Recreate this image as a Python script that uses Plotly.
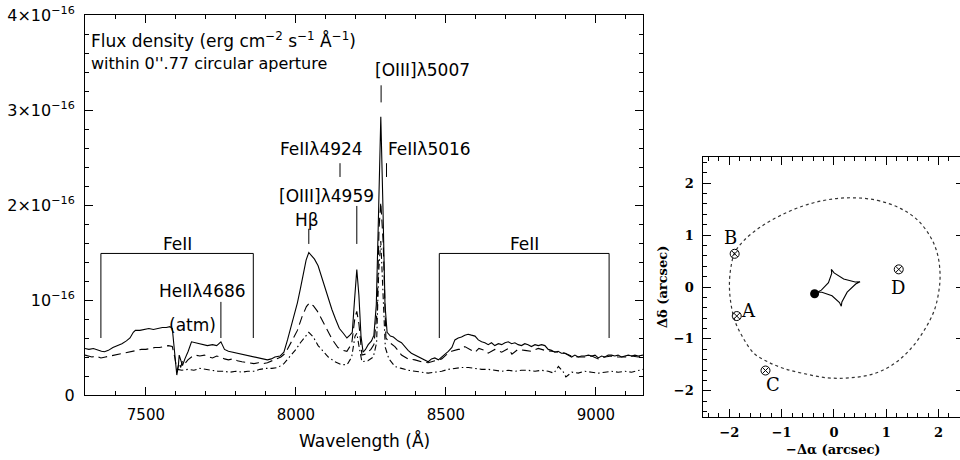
import plotly.graph_objects as go

# ---------------- Spectrum data (flux in units of 1e-16 erg/cm2/s/A) ----------------
wl_solid = [7297, 7310, 7325, 7340, 7352, 7362, 7375, 7390, 7405, 7420, 7435, 7447, 7458, 7465,
            7480, 7495, 7510, 7525, 7540, 7555, 7568, 7580, 7588, 7595, 7603, 7608, 7611, 7617,
            7622, 7630, 7641, 7652, 7665, 7675, 7690, 7705, 7722, 7736, 7750, 7762, 7775, 7790,
            7805, 7820, 7835, 7848, 7860, 7875, 7890, 7905, 7918, 7930, 7947, 7960, 7972, 7991,
            8005, 8015, 8025, 8034, 8043, 8052, 8062, 8074, 8085, 8095, 8108, 8120, 8132, 8145,
            8158, 8170, 8180, 8188, 8195, 8203, 8210, 8217, 8224, 8232, 8241, 8252, 8260, 8268,
            8275, 8283, 8290, 8297, 8304, 8315, 8325, 8340, 8352, 8365, 8374, 8385, 8397, 8408,
            8419, 8430, 8441, 8452, 8463, 8475, 8486, 8497, 8508, 8520, 8530, 8541, 8552, 8563,
            8574, 8585, 8597, 8608, 8619, 8630, 8641, 8652, 8663, 8675, 8686, 8697, 8708, 8719,
            8730, 8741, 8752, 8763, 8774, 8785, 8797, 8808, 8819, 8830, 8841, 8852, 8863, 8874,
            8885, 8897, 8908, 8919, 8930, 8941, 8952, 8963, 8975, 8986, 8997, 9008, 9019, 9030,
            9041, 9052, 9063, 9074, 9085, 9097, 9108, 9119, 9130, 9141, 9157]
flux_solid = [0.49, 0.48, 0.49, 0.47, 0.46, 0.455, 0.47, 0.50, 0.52, 0.54, 0.57, 0.60, 0.66, 0.68,
              0.68, 0.69, 0.70, 0.69, 0.70, 0.71, 0.71, 0.72, 0.70, 0.45, 0.21, 0.30, 0.42, 0.36,
              0.31, 0.38, 0.46, 0.56, 0.55, 0.54, 0.53, 0.52, 0.53, 0.52, 0.56, 0.48, 0.46, 0.45,
              0.44, 0.43, 0.42, 0.41, 0.40, 0.39, 0.38, 0.37, 0.38, 0.40, 0.41, 0.45, 0.58, 0.80,
              0.97, 1.12, 1.30, 1.42, 1.50, 1.47, 1.43, 1.36, 1.25, 1.15, 1.00, 0.90, 0.80, 0.70,
              0.65, 0.60, 0.63, 0.66, 0.98, 1.32, 1.05, 0.62, 0.45, 0.48, 0.53, 0.57, 0.63, 0.95,
              1.85, 2.93, 2.00, 0.95, 0.66, 0.62, 0.61, 0.57, 0.55, 0.50, 0.47, 0.44, 0.42, 0.40,
              0.39, 0.37, 0.35, 0.38, 0.39, 0.37, 0.40, 0.42, 0.46, 0.50, 0.58, 0.60, 0.61, 0.63,
              0.64, 0.63, 0.62, 0.58, 0.56, 0.55, 0.53, 0.55, 0.52, 0.54, 0.53, 0.55, 0.56, 0.54,
              0.55, 0.53, 0.52, 0.54, 0.53, 0.51, 0.53, 0.52, 0.53, 0.52, 0.48, 0.47, 0.45, 0.46,
              0.44, 0.44, 0.42, 0.40, 0.42, 0.40, 0.41, 0.41, 0.42, 0.41, 0.42, 0.39, 0.41, 0.40,
              0.42, 0.42, 0.41, 0.42, 0.40, 0.41, 0.42, 0.41, 0.42, 0.41, 0.42]

wl_dash = [7297, 7310, 7320, 7335, 7350, 7365, 7380, 7395, 7410, 7425, 7440, 7455, 7470, 7485,
           7500, 7515, 7530, 7545, 7560, 7575, 7588, 7596, 7604, 7610, 7616, 7622, 7630, 7640,
           7652, 7665, 7680, 7695, 7710, 7722, 7736, 7750, 7762, 7775, 7790, 7805, 7820, 7835,
           7848, 7860, 7875, 7890, 7905, 7920, 7935, 7950, 7965, 7980, 7991, 8005, 8020, 8035,
           8045, 8058, 8072, 8080, 8100, 8122, 8140, 8158, 8170, 8186, 8197, 8203, 8210, 8220,
           8232, 8250, 8260, 8271, 8277, 8283, 8291, 8300, 8313, 8330, 8352, 8374, 8397, 8419,
           8441, 8463, 8486, 8500, 8519, 8541, 8552, 8563, 8585, 8597, 8610, 8630, 8641, 8663,
           8686, 8708, 8720, 8740, 8763, 8785, 8808, 8830, 8852, 8874, 8897, 8919, 8941, 8963,
           8986, 9008, 9030, 9052, 9074, 9097, 9119, 9141, 9157]
flux_dash = [0.42, 0.41, 0.40, 0.41, 0.39, 0.40, 0.41, 0.42, 0.43, 0.44, 0.45, 0.46, 0.47, 0.48,
             0.48, 0.49, 0.50, 0.50, 0.51, 0.52, 0.51, 0.40, 0.25, 0.34, 0.29, 0.36, 0.33, 0.37,
             0.40, 0.42, 0.41, 0.42, 0.40, 0.39, 0.41, 0.40, 0.38, 0.37, 0.38, 0.36, 0.35, 0.34,
             0.33, 0.33, 0.34, 0.33, 0.34, 0.36, 0.38, 0.40, 0.44, 0.53, 0.58, 0.68, 0.82, 0.93,
             0.97, 0.94, 0.88, 0.83, 0.70, 0.58, 0.50, 0.47, 0.46, 0.54, 0.82, 0.88, 0.75, 0.42,
             0.43, 0.48, 0.53, 0.89, 1.75, 2.03, 1.60, 0.60, 0.55, 0.51, 0.42, 0.38, 0.37, 0.35,
             0.34, 0.36, 0.38, 0.42, 0.46, 0.48, 0.48, 0.51, 0.47, 0.45, 0.49, 0.47, 0.44, 0.48,
             0.45, 0.49, 0.43, 0.48, 0.47, 0.46, 0.49, 0.47, 0.46, 0.45, 0.44, 0.41, 0.40, 0.40,
             0.41, 0.38, 0.40, 0.41, 0.40, 0.40, 0.41, 0.40, 0.41]

wl_dashdot = [7605, 7620, 7640, 7660, 7680, 7700, 7720, 7740, 7760, 7780, 7800, 7820, 7840, 7860,
              7880, 7900, 7920, 7940, 7960, 7980, 8000, 8015, 8030, 8043, 8058, 8074, 8091, 8108,
              8130, 8152, 8171, 8186, 8197, 8203, 8210, 8220, 8240, 8258, 8269, 8276, 8283, 8291,
              8298, 8310, 8330, 8352, 8374, 8397, 8419, 8441, 8463, 8486, 8508, 8530, 8552, 8575,
              8597, 8619, 8641, 8663, 8686, 8708, 8730, 8752, 8774, 8797, 8819, 8841, 8860, 8875,
              8890, 8900, 8920, 8941, 8963, 8986, 9008, 9030, 9052, 9074, 9097, 9119, 9141, 9157]
flux_dashdot = [0.27, 0.26, 0.27, 0.26, 0.28, 0.27, 0.26, 0.25, 0.25, 0.24, 0.25, 0.24, 0.25, 0.25,
                0.27, 0.28, 0.28, 0.29, 0.33, 0.40, 0.48, 0.55, 0.61, 0.66, 0.61, 0.52, 0.46, 0.40,
                0.35, 0.32, 0.32, 0.40, 0.62, 0.65, 0.52, 0.35, 0.36, 0.40, 0.55, 1.30, 1.62, 1.10,
                0.50, 0.38, 0.30, 0.28, 0.26, 0.25, 0.24, 0.23, 0.24, 0.25, 0.27, 0.28, 0.29, 0.29,
                0.28, 0.27, 0.27, 0.26, 0.25, 0.26, 0.25, 0.26, 0.26, 0.25, 0.26, 0.25, 0.23, 0.30,
                0.25, 0.19, 0.24, 0.23, 0.25, 0.24, 0.23, 0.24, 0.25, 0.24, 0.25, 0.24, 0.26, 0.27]

# axis ticks / labels
spec_xticks = [7500, 8000, 8500, 9000]
spec_yticks = [0, 1, 2, 3, 4]
spec_yticktext = ["0", "10<sup>−16</sup>", "2×10<sup>−16</sup>", "3×10<sup>−16</sup>", "4×10<sup>−16</sup>"]

# line identifications: label, label x, label y, tick x, tick y0, tick y1, anchor
line_labels = ["[OIII]λ5007", "FeIIλ4924", "FeIIλ5016", "[OIII]λ4959", "Hβ", "HeIIλ4686"]
line_label_x = [8257, 8085, 8300, 8103, 8036, 7687]
line_label_y = [3.42, 2.59, 2.59, 2.09, 1.84, 1.10]
line_label_anchor = ["left", "center", "left", "center", "center", "center"]
line_tick_x = [8284, 8147, 8302, 8203, 8043, 7750]
line_tick_y0 = [3.08, 2.295, 2.295, 1.59, 1.59, 0.60]
line_tick_y1 = [3.26, 2.44, 2.44, 1.99, 1.75, 0.98]

# FeII blend brackets
feii_x0 = [7350, 8478]
feii_x1 = [7858, 9044]
feii_top = 1.49
feii_bottom = 0.60

# ---------------- Lens model panel ----------------
crit_x = [0.32, 0.83, 1.28, 1.60, 1.85, 1.98, 2.03, 2.01, 1.92, 1.73, 1.47, 1.15, 0.77, 0.32,
          -0.13, -0.57, -0.96, -1.27, -1.53, -1.75, -1.90, -1.98, -2.00, -1.97, -1.90, -1.72,
          -1.40, -1.02, -0.57, -0.13, 0.32]
crit_y = [1.72, 1.67, 1.51, 1.29, 0.96, 0.64, 0.26, -0.06, -0.45, -0.83, -1.19, -1.48, -1.67, -1.75,
          -1.75, -1.67, -1.57, -1.44, -1.28, -0.96, -0.64, -0.26, 0.07, 0.39, 0.66, 0.90,
          1.16, 1.38, 1.57, 1.68, 1.72]

caus_x = [0.50, 0.416, 0.253, 0.152, 0.14, 0.106, -0.037, -0.230, -0.32, -0.241, -0.105, -0.043,
          -0.05, 0.003, 0.186, 0.406, 0.50]
caus_y = [0.10, 0.057, -0.099, -0.288, -0.37, -0.299, -0.169, -0.101, -0.10, -0.061, 0.082, 0.261,
          0.34, 0.272, 0.153, 0.096, 0.10]

img_names = ["A", "B", "C", "D"]
img_x = [-1.86, -1.90, -1.31, 1.24]
img_y = [-0.56, 0.64, -1.61, 0.34]
img_label_x = [-1.63, -1.98, -1.16, 1.22]
img_label_y = [-0.45, 0.96, -1.88, 0.00]

galaxy_x = [-0.37]
galaxy_y = [-0.13]

lens_ticks = [-2, -1, 0, 1, 2]

# ---------------- Figure ----------------
W, H = 960, 460
fig = go.Figure()

fig.add_trace(go.Scatter(x=wl_solid, y=flux_solid, mode="lines",
                         line=dict(color="black", width=1.1), xaxis="x", yaxis="y"))
fig.add_trace(go.Scatter(x=wl_dash, y=flux_dash, mode="lines",
                         line=dict(color="black", width=1.1, dash="9px,5px"), xaxis="x", yaxis="y"))
fig.add_trace(go.Scatter(x=wl_dashdot, y=flux_dashdot, mode="lines",
                         line=dict(color="black", width=1.1, dash="6px,3px,1.5px,3px"), xaxis="x", yaxis="y"))

fig.add_trace(go.Scatter(x=crit_x, y=crit_y, mode="lines", line_shape="spline",
                         line=dict(color="#333", width=1.2, dash="dot"), xaxis="x2", yaxis="y2"))
fig.add_trace(go.Scatter(x=caus_x, y=caus_y, mode="lines",
                         line=dict(color="black", width=1.1), xaxis="x2", yaxis="y2"))
fig.add_trace(go.Scatter(x=img_x, y=img_y, mode="markers",
                         marker=dict(symbol="circle-x-open", size=9, color="black",
                                     line=dict(width=1, color="black")),
                         xaxis="x2", yaxis="y2"))
fig.add_trace(go.Scatter(x=galaxy_x, y=galaxy_y, mode="markers",
                         marker=dict(symbol="circle", size=9, color="black"),
                         xaxis="x2", yaxis="y2"))
fig.add_trace(go.Scatter(x=[], y=[], xaxis="x2", yaxis="y3", showlegend=False))

sans = "DejaVu Sans"
serif = "DejaVu Serif"

common = dict(showgrid=False, zeroline=False, showline=True, linecolor="black", linewidth=1,
              ticks="inside", ticklen=8, tickwidth=1, tickcolor="black", automargin=False)

fig.update_layout(
    width=W, height=H, margin=dict(l=0, r=0, t=0, b=0, autoexpand=False),
    paper_bgcolor="white", plot_bgcolor="white", showlegend=False,
    xaxis=dict(domain=[85 / W, 643 / W], range=[7297, 9157], anchor="y",
               tickvals=spec_xticks, mirror="ticks",
               minor=dict(dtick=100, ticklen=4, ticks="inside", tickcolor="black"),
               tickfont=dict(family=sans, size=15, color="black"), ticklabelstandoff=6, **common),
    yaxis=dict(domain=[65 / H, 445 / H], range=[0, 4], anchor="x",
               tickvals=spec_yticks, ticktext=spec_yticktext, mirror="ticks",
               minor=dict(dtick=0.2, ticklen=4, ticks="inside", tickcolor="black"),
               tickfont=dict(family=sans, size=16, color="black"), ticklabelstandoff=6, **common),
    xaxis2=dict(domain=[703.3 / W, 1.0], range=[-2.5, 2.412], anchor="y2",
                tickvals=lens_ticks, mirror="ticks",
                minor=dict(dtick=0.2, ticklen=4, ticks="inside", tickcolor="black"),
                tickfont=dict(family=serif, size=13, color="black", weight="bold"),
                ticklabelstandoff=4, **common),
    yaxis2=dict(domain=[43.3 / H, 302.7 / H], range=[-2.5, 2.5], anchor="x2",
                tickvals=lens_ticks, mirror=False,
                minor=dict(dtick=0.2, ticklen=4, ticks="inside", tickcolor="black"),
                tickfont=dict(family=serif, size=13, color="black", weight="bold"),
                ticklabelstandoff=6, **common),
    yaxis3=dict(overlaying="y2", side="right", anchor="x2", range=[-2.5, 2.5],
                tickvals=lens_ticks, showticklabels=False, showline=False, showgrid=False,
                zeroline=False, ticks="inside", ticklen=4, tickcolor="black", automargin=False),
)

ann = []
font_l = dict(family=sans, size=17, color="black")
for t, x, y, a in zip(line_labels, line_label_x, line_label_y, line_label_anchor):
    ann.append(dict(x=x, y=y, xref="x", yref="y", text=t, showarrow=False,
                    xanchor=a, yanchor="middle", font=font_l))
ann.append(dict(x=7655, y=0.74, xref="x", yref="y", text="(atm)", showarrow=False,
                xanchor="center", yanchor="middle", font=font_l))
for x0, x1 in zip(feii_x0, feii_x1):
    ann.append(dict(x=(x0 + x1) / 2, y=1.59, xref="x", yref="y", text="FeII", showarrow=False,
                    xanchor="center", yanchor="middle", font=font_l))
ann.append(dict(x=89 / W, y=1 - 40 / H, xref="paper", yref="paper",
                text="Flux density (erg cm<sup>−2</sup> s<sup>−1</sup> Å<sup>−1</sup>)",
                showarrow=False, xanchor="left", yanchor="middle",
                font=dict(family=sans, size=17, color="black")))
ann.append(dict(x=89 / W, y=1 - 64 / H, xref="paper", yref="paper",
                text="within 0''.77 circular aperture",
                showarrow=False, xanchor="left", yanchor="middle",
                font=dict(family=sans, size=16, color="black")))
ann.append(dict(x=364 / W, y=1 - 440 / H, xref="paper", yref="paper",
                text="Wavelength (Å)", showarrow=False, xanchor="center", yanchor="middle",
                font=dict(family=sans, size=17, color="black")))
# lens panel labels
for n, x, y in zip(img_names, img_label_x, img_label_y):
    ann.append(dict(x=x, y=y, xref="x2", yref="y2", text=n, showarrow=False,
                    xanchor="center", yanchor="middle",
                    font=dict(family=serif, size=18, color="black")))
ann.append(dict(x=833 / W, y=1 - 449 / H, xref="paper", yref="paper",
                text="−Δα (arcsec)", showarrow=False, xanchor="center", yanchor="middle",
                font=dict(family=serif, size=13, color="black", weight="bold")))
ann.append(dict(x=662 / W, y=1 - 287 / H, xref="paper", yref="paper",
                text="Δδ (arcsec)", showarrow=False, xanchor="center", yanchor="middle",
                textangle=-90, font=dict(family=serif, size=13, color="black", weight="bold")))
fig.update_layout(annotations=ann)

shapes = []
for x, y0, y1 in zip(line_tick_x, line_tick_y0, line_tick_y1):
    shapes.append(dict(type="line", xref="x", yref="y", x0=x, x1=x, y0=y0, y1=y1,
                       line=dict(color="black", width=1)))
for x0, x1 in zip(feii_x0, feii_x1):
    shapes.append(dict(type="line", xref="x", yref="y", x0=x0, x1=x1, y0=feii_top, y1=feii_top,
                       line=dict(color="black", width=1)))
    for xv in (x0, x1):
        shapes.append(dict(type="line", xref="x", yref="y", x0=xv, x1=xv,
                           y0=feii_bottom, y1=feii_top, line=dict(color="black", width=1)))
fig.update_layout(shapes=shapes)

fig.write_html("out.html", config={"displayModeBar": False},
               post_script="document.body.style.margin='0';document.body.style.padding='0';"
                           "document.body.style.overflow='hidden';")
